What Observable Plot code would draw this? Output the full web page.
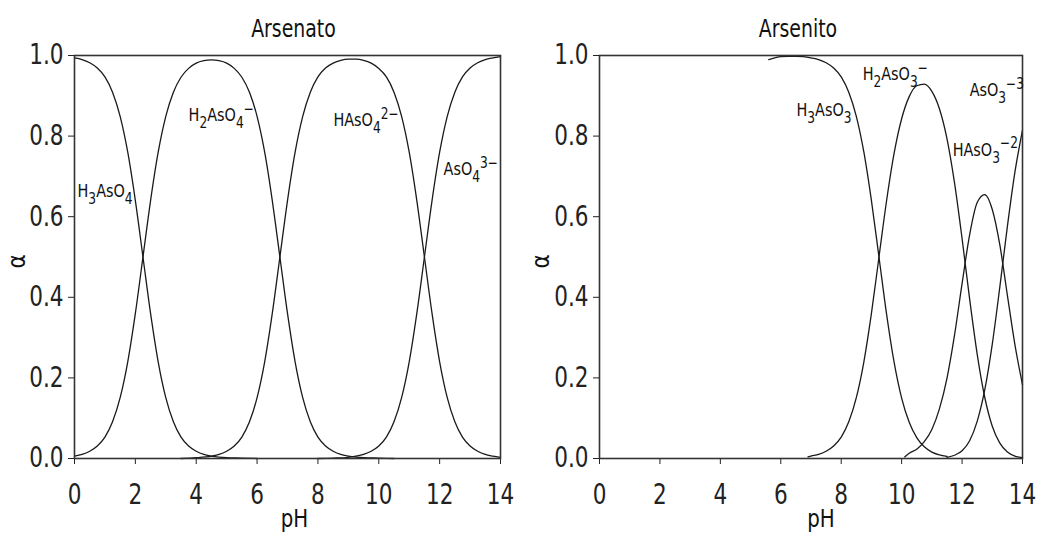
<!DOCTYPE html>
<html>
<head>
<meta charset="utf-8">
<script src="https://cdn.jsdelivr.net/npm/d3@7"></script>
<script src="https://cdn.jsdelivr.net/npm/@observablehq/plot@0.6"></script>
<style>
  html, body { margin: 0; padding: 0; background: #fff; }
  #wrap { position: relative; width: 1039px; height: 544px; overflow: hidden; }
  .panel { position: absolute; top: 0; }
  svg { overflow: visible; }
</style>
</head>
<body>
<div id="wrap">
  <div class="panel" id="left" style="left:0px"></div>
  <div class="panel" id="right" style="left:519px"></div>
</div>
<script>
// ---------- data (pH, alpha) ----------
const xTicks = [0, 2, 4, 6, 8, 10, 12, 14];
const yTicks = [0, 0.2, 0.4, 0.6, 0.8, 1.0];

// Arsenato
const h3aso4 = [[0,0.994],[0.25,0.990],[0.5,0.982],[0.75,0.969],[1,0.947],[1.25,0.909],[1.5,0.849],[1.75,0.760],[2,0.640],[2.25,0.500],[2.5,0.360],[2.75,0.240],[3,0.151],[3.25,0.091],[3.5,0.053],[3.75,0.031],[4,0.018],[4.25,0.010],[4.5,0.006],[5,0.002],[5.5,0.001],[6,0]];
const h2aso4 = [[0,0.006],[0.25,0.010],[0.5,0.018],[0.75,0.031],[1,0.053],[1.25,0.091],[1.5,0.151],[1.75,0.240],[2,0.360],[2.25,0.500],[2.5,0.640],[2.75,0.760],[3,0.849],[3.25,0.909],[3.5,0.946],[3.75,0.968],[4,0.981],[4.25,0.987],[4.5,0.989],[4.75,0.987],[5,0.981],[5.25,0.968],[5.5,0.946],[5.75,0.909],[6,0.849],[6.25,0.760],[6.5,0.640],[6.75,0.500],[7,0.360],[7.25,0.240],[7.5,0.151],[7.75,0.091],[8,0.053],[8.25,0.031],[8.5,0.018],[8.75,0.010],[9,0.006],[9.5,0.002],[10,0.001],[10.5,0]];
const haso4 = [[3.5,0],[4,0.002],[4.5,0.006],[4.75,0.010],[5,0.018],[5.25,0.031],[5.5,0.053],[5.75,0.091],[6,0.151],[6.25,0.240],[6.5,0.360],[6.75,0.500],[7,0.640],[7.25,0.760],[7.5,0.849],[7.75,0.909],[8,0.947],[8.25,0.969],[8.5,0.981],[8.75,0.988],[9,0.991],[9.25,0.991],[9.5,0.988],[9.75,0.981],[10,0.968],[10.25,0.947],[10.5,0.909],[10.75,0.849],[11,0.760],[11.25,0.640],[11.5,0.500],[11.75,0.360],[12,0.240],[12.25,0.151],[12.5,0.091],[12.75,0.053],[13,0.031],[13.25,0.018],[13.5,0.010],[13.75,0.006],[14,0.003]];
const aso4 = [[8,0],[8.5,0.001],[9,0.003],[9.5,0.010],[9.75,0.018],[10,0.031],[10.25,0.053],[10.5,0.091],[10.75,0.151],[11,0.240],[11.25,0.360],[11.5,0.500],[11.75,0.640],[12,0.760],[12.25,0.849],[12.5,0.909],[12.75,0.947],[13,0.969],[13.25,0.982],[13.5,0.990],[13.75,0.994],[14,0.997]];

const arsenatoLabels = ["H_3AsO_4", "H_2AsO_4^−", "HAsO_4^2−", "AsO_4^3−"];
const arsenatoLabelPH = [0.1, 3.75, 8.51, 12.13];
const arsenatoLabelAlpha = [0.664, 0.852, 0.839, 0.717];

// Arsenito
const h3aso3 = [[5.6,0.990],[5.8,0.994],[6,0.997],[6.25,0.998],[6.5,0.998],[6.75,0.997],[7,0.994],[7.25,0.990],[7.5,0.982],[7.75,0.969],[8,0.947],[8.25,0.909],[8.5,0.849],[8.75,0.760],[9,0.640],[9.25,0.500],[9.5,0.359],[9.75,0.239],[10,0.150],[10.25,0.090],[10.5,0.052],[10.75,0.029],[11,0.016],[11.25,0.009],[11.5,0.005]];
const h2aso3 = [[6.9,0.004],[7,0.006],[7.25,0.010],[7.5,0.018],[7.75,0.031],[8,0.053],[8.25,0.091],[8.5,0.151],[8.75,0.240],[9,0.360],[9.25,0.500],[9.5,0.639],[9.75,0.757],[10,0.843],[10.25,0.898],[10.5,0.925],[10.75,0.929],[11,0.911],[11.25,0.868],[11.5,0.794],[11.75,0.684],[12,0.546],[12.25,0.396],[12.5,0.259],[12.75,0.152],[13,0.080],[13.25,0.038],[13.5,0.016],[13.75,0.006],[14,0.002]];
const haso3 = [[10.1,0.004],[10.25,0.013],[10.5,0.023],[10.75,0.042],[11,0.072],[11.25,0.123],[11.5,0.199],[11.75,0.306],[12,0.434],[12.25,0.555],[12.5,0.635],[12.75,0.655],[13,0.618],[13.25,0.530],[13.5,0.405],[13.75,0.282],[14,0.183]];
const aso3 = [[11.5,0.003],[11.75,0.008],[12,0.019],[12.25,0.044],[12.5,0.092],[12.75,0.170],[13,0.284],[13.25,0.426],[13.5,0.576],[13.75,0.711],[14,0.815]];

const arsenitoLabels = ["H_3AsO_3", "H_2AsO_3^−", "AsO_3^−3", "HAsO_3^−2"];
const arsenitoLabelPH = [6.52, 8.71, 12.25, 11.69];
const arsenitoLabelAlpha = [0.864, 0.954, 0.914, 0.766];

// ---------- drawing ----------
const FONT = '"Liberation Sans Narrow", "Arial Narrow", "DejaVu Sans Condensed", "Liberation Sans", sans-serif';
const LABEL_FS = 16;
const STRETCH = 1.15;

function panel({series, labels, labelPH, labelAlpha, title, width, marginLeft, marginRight, titleDx, pHDx, alphaX}) {
  const rows = series.flatMap((pts, s) => pts.map(([ph, a]) => ({ph, a, s})));
  const svg = Plot.plot({
    width, height: 544,
    marginLeft, marginRight, marginTop: 55, marginBottom: 86,
    style: {fontFamily: FONT, fontSize: "24px", color: "#222", background: "transparent"},
    x: {domain: [0, 14], ticks: xTicks, tickSize: 6, tickPadding: 20, label: null},
    y: {domain: [0, 1], ticks: yTicks, tickFormat: d3.format(".1f"), tickSize: 6, tickPadding: 5, label: null},
    marks: [
      Plot.line(rows, {x: "ph", y: "a", z: "s", stroke: "#1a1a1a", strokeWidth: 1.3, curve: "monotone-x"}),
      Plot.frame({stroke: "#333", strokeWidth: 1.6}),
      Plot.text(labels, {x: (d, i) => labelPH[i], y: (d, i) => labelAlpha[i], text: d => d,
        textAnchor: "start", fontSize: LABEL_FS, fill: "#111"}),
      Plot.text([title], {frameAnchor: "top", dy: -36, dx: titleDx, fontSize: 21, fill: "#111"}),
      Plot.text(["pH"], {frameAnchor: "bottom", dy: 68, dx: pHDx, fontSize: 22, fill: "#111"}),
      Plot.text(["α"], {x: alphaX, y: 0.489, rotate: -90, fontSize: 24, fill: "#111"})
    ]
  });
  // sub/superscript formatting of chemical labels
  svg.querySelectorAll("text").forEach(t => {
    const s = t.textContent;
    if (!/[_^]/.test(s) || t.children.length) return;
    const fs = LABEL_FS;
    const segs = [];
    let i = 0;
    while (i < s.length) {
      if (s[i] === "_") { segs.push({t: s[i + 1], k: "sub"}); i += 2; }
      else if (s[i] === "^") { segs.push({t: s.slice(i + 1), k: "sup"}); i = s.length; }
      else {
        let j = i;
        while (j < s.length && s[j] !== "_" && s[j] !== "^") j++;
        segs.push({t: s.slice(i, j), k: "n"}); i = j;
      }
    }
    t.textContent = "";
    let cur = 0;
    for (const g of segs) {
      const target = g.k === "sub" ? fs * 0.38 : g.k === "sup" ? -fs * 0.40 : 0;
      const ts = document.createElementNS("http://www.w3.org/2000/svg", "tspan");
      ts.setAttribute("dy", (target - cur) + "px");
      if (g.k !== "n") ts.setAttribute("font-size", (fs * 0.85) + "px");
      ts.textContent = g.t;
      t.appendChild(ts);
      cur = target;
    }
  });
  // tall, narrow lettering like the reference: stretch text vertically about its anchor
  svg.querySelectorAll("text").forEach(t => {
    const tr = t.getAttribute("transform");
    if (tr && /rotate/.test(tr)) return;
    if (tr) {
      t.setAttribute("transform", `${tr} scale(1,${STRETCH})`);
    } else {
      const y = +(t.getAttribute("y") || 0);
      if (Number.isFinite(y)) t.setAttribute("transform", `translate(0,${y}) scale(1,${STRETCH}) translate(0,${-y})`);
    }
  });
  return svg;
}

document.getElementById("left").appendChild(panel({
  series: [h3aso4, h2aso4, haso4, aso4],
  labels: arsenatoLabels, labelPH: arsenatoLabelPH, labelAlpha: arsenatoLabelAlpha,
  title: "Arsenato", width: 519, marginLeft: 74, marginRight: 19,
  titleDx: 6, pHDx: 7, alphaX: -1.87
}));
document.getElementById("right").appendChild(panel({
  series: [h3aso3, h2aso3, haso3, aso3],
  labels: arsenitoLabels, labelPH: arsenitoLabelPH, labelAlpha: arsenitoLabelAlpha,
  title: "Arsenito", width: 520, marginLeft: 80, marginRight: 17,
  titleDx: -13, pHDx: 10, alphaX: -1.92
}));
</script>
</body>
</html>
